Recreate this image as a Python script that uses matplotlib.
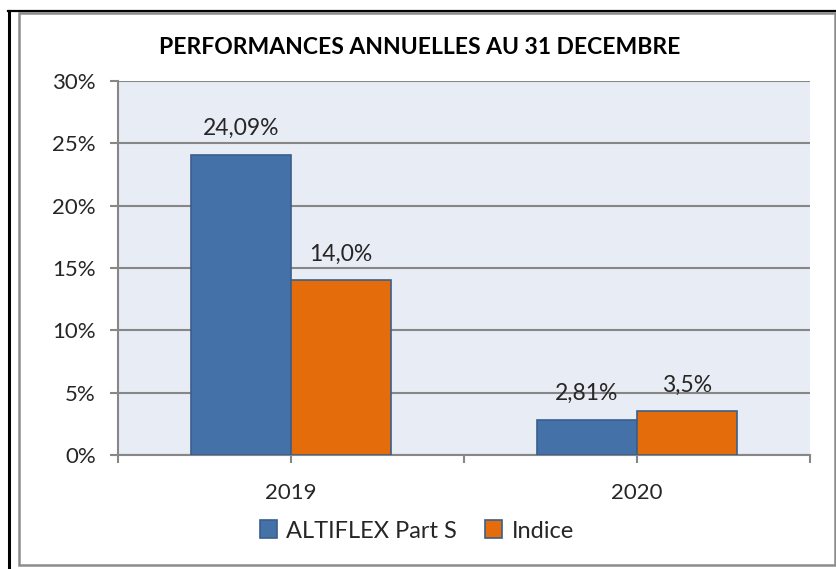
import matplotlib
matplotlib.use("Agg")
import matplotlib.pyplot as plt
from matplotlib.patches import Patch, Rectangle
from matplotlib.lines import Line2D
import numpy as np

years = ["2019", "2020"]
fund = [24.09, 2.81]
index = [14.0, 3.5]
fund_labels = ["24,09%", "2,81%"]
index_labels = ["14,0%", "3,5%"]
series_names = ["ALTIFLEX Part S", "Indice"]

plt.rcParams["font.family"] = ["Lato", "DejaVu Sans"]

blue = "#4471A7"
orange = "#E46C0A"
edge = "#3A5E8C"
grid = "#878787"
txt = "#262626"

W, H = 837, 569
fig = plt.figure(figsize=(W / 100, H / 100), dpi=100)
ax = fig.add_axes([118 / W, 1 - 455 / H, (810 - 118) / W, (455 - 81) / H])
ax.set_facecolor("#E8ECF4")

x = np.arange(len(years))
bw = 0.29
ax.bar(x - bw / 2, fund, bw, color=blue, edgecolor=edge, linewidth=1.2, zorder=3)
ax.bar(x + bw / 2, index, bw, color=orange, edgecolor=edge, linewidth=1.2, zorder=3)

for xi, v, s in zip(x - bw / 2, fund, fund_labels):
    ax.annotate(s, (xi, v), xytext=(0, 19), textcoords="offset points",
                ha="center", va="center", fontsize=16.5, color=txt)
for xi, v, s in zip(x + bw / 2, index, index_labels):
    ax.annotate(s, (xi, v), xytext=(0, 19), textcoords="offset points",
                ha="center", va="center", fontsize=16.5, color=txt)

ax.set_ylim(0, 30)
ax.set_xlim(-0.5, 1.5)
ax.set_yticks(range(0, 31, 5))
ax.set_yticklabels([f"{t}%" for t in range(0, 31, 5)])
ax.set_xticks([-0.5, 0, 0.5, 1, 1.5])
ax.set_xticklabels(["", years[0], "", years[1], ""])
ax.yaxis.grid(True, color=grid, linewidth=1.5, zorder=0)
ax.set_axisbelow(True)
for s in ["top", "right"]:
    ax.spines[s].set_visible(False)
for s in ["left", "bottom"]:
    ax.spines[s].set_color(grid)
    ax.spines[s].set_linewidth(1.5)
ax.tick_params(axis="both", colors=grid, width=1.5, length=6, labelsize=16,
               labelcolor=txt)
ax.tick_params(axis="x", pad=14)
ax.tick_params(axis="y", pad=10)

fig.text(420 / W, 1 - 48 / H, "PERFORMANCES ANNUELLES AU 31 DECEMBRE",
         ha="center", va="center", fontsize=16.5, fontweight="bold", color="black")

handles = [Patch(facecolor=blue, edgecolor=edge, linewidth=1.2),
           Patch(facecolor=orange, edgecolor=edge, linewidth=1.2)]
fig.legend(handles, series_names, loc="center", bbox_to_anchor=(417 / W, 1 - 531 / H),
           ncol=2, frameon=False, fontsize=17, handlelength=0.7, handleheight=0.8,
           handletextpad=0.4, columnspacing=1.2, labelcolor=txt)

# frame around the chart
fig.add_artist(Rectangle((19 / W, 1 - 565 / H), (835 - 19) / W, (565 - 13) / H,
                         transform=fig.transFigure, fill=False,
                         edgecolor="#8C8C8C", linewidth=1.8))
fig.add_artist(Line2D([9 / W, 9 / W], [0, 1 - 11 / H], transform=fig.transFigure,
                      color="black", linewidth=2.2))
fig.add_artist(Line2D([8 / W, 836 / W], [1 - 11 / H, 1 - 11 / H],
                      transform=fig.transFigure, color="black", linewidth=1.6))

fig.savefig("out.png", dpi=100)
